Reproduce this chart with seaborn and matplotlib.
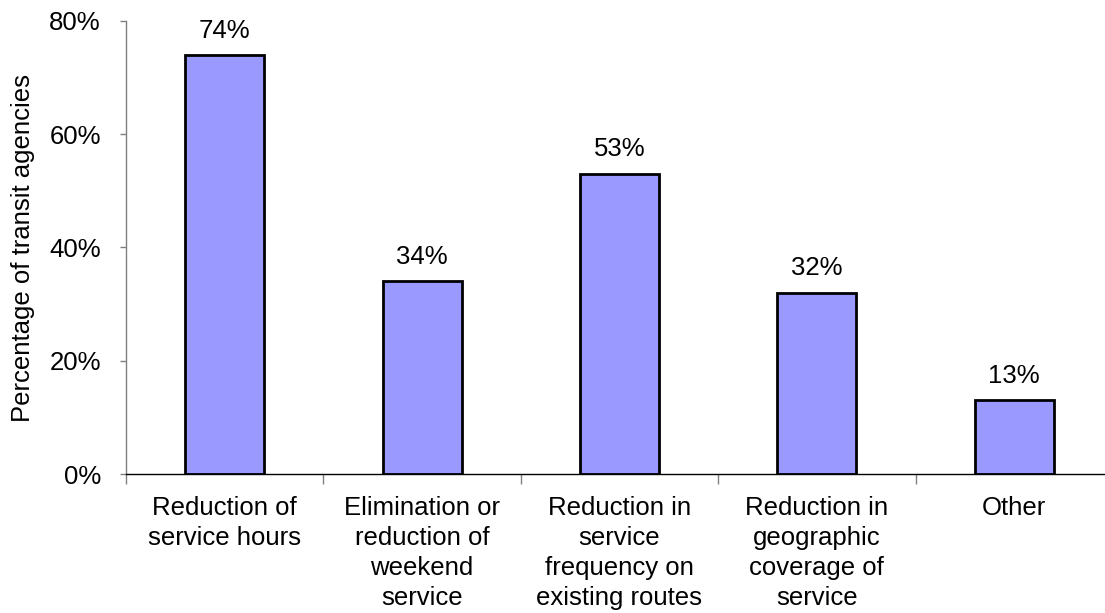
import numpy as np
import pandas as pd
import matplotlib
matplotlib.use("Agg")
import matplotlib.pyplot as plt
import seaborn as sns
from matplotlib.ticker import FuncFormatter, FixedLocator

# ---------------------------
# Data
# ---------------------------
categories = [
    "Reduction of\nservice hours",
    "Elimination or\nreduction of\nweekend\nservice",
    "Reduction in\nservice\nfrequency on\nexisting routes",
    "Reduction in\ngeographic\ncoverage of\nservice",
    "Other",
]
values = [74, 34, 53, 32, 13]
value_labels = ["74%", "34%", "53%", "32%", "13%"]
y_ticks = [0, 20, 40, 60, 80]

df = pd.DataFrame({"category": categories, "value": values})

sns.set_style("white")
plt.rcParams['font.family'] = ['Liberation Sans', 'DejaVu Sans']
plt.rcParams['text.color'] = 'black'
plt.rcParams['xtick.color'] = 'black'
plt.rcParams['ytick.color'] = 'black'
plt.rcParams['axes.labelcolor'] = 'black'
FS = 18.5

fig = plt.figure(figsize=(11.05, 6.13), dpi=100)
ax = fig.add_axes([126 / 1105, 139 / 613, 987 / 1105, 453 / 613])

sns.barplot(data=df, x="category", y="value", color="#9999FF", saturation=1,
            width=0.4, edgecolor="black", linewidth=2, ax=ax)

for i, (v, lab) in enumerate(zip(values, value_labels)):
    ax.text(i, v + 2.2, lab, ha="center", va="bottom", fontsize=FS, color="black")

ax.set_xlim(-0.5, 4.5)
ax.set_ylim(0, 80)
ax.yaxis.set_major_locator(FixedLocator(y_ticks))
ax.yaxis.set_major_formatter(FuncFormatter(lambda v, p: f"{v:.0f}%"))
ax.set_xlabel("")
ax.set_ylabel("Percentage of transit agencies", fontsize=FS, labelpad=10)

# category boundary ticks, Excel style
ax.set_xticks(np.arange(-0.5, 5.0, 1.0), minor=False)
ax.set_xticklabels([""] * 6)
ax.set_xticks(range(5), minor=True)
ax.set_xticklabels(categories, minor=True, fontsize=FS, linespacing=1.32, va="top")
ax.tick_params(axis="x", which="major", bottom=True, direction="out", length=7,
               width=1, color="#808080")
ax.tick_params(axis="x", which="minor", bottom=True, length=0, pad=16)
ax.tick_params(axis="y", left=True, direction="out", length=4, width=1, color="#808080",
               labelsize=FS, pad=14)

for s in ["top", "right"]:
    ax.spines[s].set_visible(False)
ax.spines["left"].set_color("#808080")
ax.spines["left"].set_linewidth(1)
ax.spines["bottom"].set_color("black")
ax.spines["bottom"].set_linewidth(1)

fig.savefig("out.png", dpi=100)
